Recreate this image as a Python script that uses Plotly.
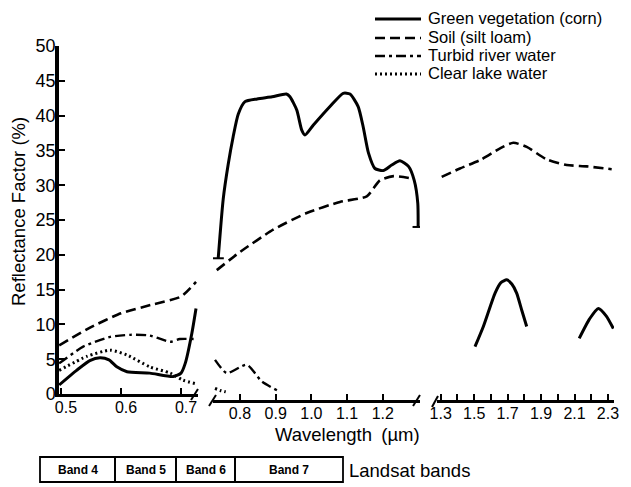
import plotly.graph_objects as go

# ---------------- data ----------------
# Green vegetation (corn)
veg_vis_x = [0.497, 0.526, 0.548, 0.565, 0.58, 0.593, 0.61, 0.648, 0.687, 0.70, 0.707, 0.718, 0.725]
veg_vis_y = [1.3, 3.4, 4.8, 5.2, 4.9, 3.9, 3.2, 3.0, 2.5, 3.0, 4.4, 8.7, 12.3]
veg_nir_x = [0.739, 0.753, 0.767, 0.781, 0.795, 0.814, 0.848, 0.89, 0.93, 0.94, 0.959, 0.973, 0.982,
             1.005, 1.052, 1.089, 1.108, 1.131, 1.145, 1.16, 1.178, 1.201, 1.225, 1.248, 1.272, 1.288,
             1.298, 1.299]
veg_nir_y = [19.5, 28.0, 33.0, 37.0, 40.2, 42.0, 42.4, 42.7, 43.1, 42.7, 40.8, 37.9, 37.2,
             38.6, 41.3, 43.2, 43.1, 41.3, 38.4, 34.6, 32.4, 32.1, 32.9, 33.5, 32.7, 30.7,
             27.4, 24.0]
veg_swir1_x = [1.505, 1.555, 1.625, 1.66, 1.695, 1.725, 1.754, 1.785, 1.814]
veg_swir1_y = [6.8, 9.7, 14.5, 16.0, 16.4, 15.8, 14.5, 12.0, 9.7]
veg_swir2_x = [2.128, 2.19, 2.242, 2.29, 2.332]
veg_swir2_y = [8.0, 10.8, 12.3, 11.2, 9.4]

# Soil (silt loam)
soil_vis_x = [0.497, 0.55, 0.6, 0.65, 0.70, 0.725]
soil_vis_y = [7.0, 9.6, 11.6, 12.8, 14.0, 16.1]
soil_nir_x = [0.735, 0.8, 0.893, 0.987, 1.08, 1.155, 1.192, 1.23, 1.277]
soil_nir_y = [17.8, 20.4, 23.6, 26.0, 27.6, 28.4, 30.7, 31.3, 31.0]
soil_swir_x = [1.306, 1.415, 1.535, 1.655, 1.734, 1.814, 1.934, 2.053, 2.173, 2.322]
soil_swir_y = [31.2, 32.4, 33.6, 35.3, 36.1, 35.5, 33.7, 32.9, 32.7, 32.3]

# Turbid river water
turbid_vis_x = [0.497, 0.537, 0.582, 0.615, 0.648, 0.682, 0.698, 0.722]
turbid_vis_y = [4.4, 6.8, 8.2, 8.5, 8.4, 7.5, 7.9, 7.9]
turbid_nir_x = [0.73, 0.763, 0.819, 0.861, 0.912]
turbid_nir_y = [4.9, 3.0, 4.2, 1.8, 0.3]

# Clear lake water
clear_vis_x = [0.497, 0.543, 0.582, 0.61, 0.648, 0.682, 0.703, 0.723]
clear_vis_y = [3.4, 5.4, 6.3, 5.6, 3.9, 3.0, 2.0, 1.5]
clear_nir_x = [0.73, 0.745, 0.76]
clear_nir_y = [0.8, 0.5, 0.3]

series_names = ["Green vegetation (corn)", "Soil (silt loam)", "Turbid river water", "Clear lake water"]
y_ticks = [0, 5, 10, 15, 20, 25, 30, 35, 40, 45, 50]
left_ticks = [0.5, 0.6, 0.7]
left_labels = ["0.5", "0.6", "0.7"]
mid_ticks = [0.8, 0.9, 1.0, 1.1, 1.2]
mid_labels = ["0.8", "0.9", "1.0", "1.1", "1.2"]
right_ticks = [1.3, 1.4, 1.5, 1.6, 1.7, 1.8, 1.9, 2.0, 2.1, 2.2, 2.3]
right_labels = ["1.3", "", "1.5", "", "1.7", "", "1.9", "", "2.1", "", "2.3"]
band_names = ["Band 4", "Band 5", "Band 6", "Band 7"]

# ---------------- figure ----------------
# the page body adds an 8px margin, so the figure is 8px smaller and everything shifts by 8px
W, H = 623, 479
L, R, T, B = 51, 17, 38, 86
PW, PH = W - L - R, H - T - B


def px(x):  # reference-image x pixel -> paper
    return (x - 8 - L) / PW


def py(y):  # reference-image y pixel -> paper
    return (H - B - (y - 8)) / PH


FONT = "Liberation Sans, Arial, sans-serif"

dashes = ["solid", "10px,5px", "10px,4px,3px,4px", "2px,3px"]
widths = [3, 2.6, 2.4, 3]

fig = go.Figure()


def add(xs, ys, k, xa):
    fig.add_trace(go.Scatter(
        x=xs, y=ys, mode="lines",
        line=dict(color="black", width=widths[k], dash=dashes[k], shape="spline", smoothing=0.6),
        name=series_names[k], showlegend=False, xaxis=xa, yaxis="y", hoverinfo="skip"))


add(veg_vis_x, veg_vis_y, 0, "x")
add(soil_vis_x, soil_vis_y, 1, "x")
add(turbid_vis_x, turbid_vis_y, 2, "x")
add(clear_vis_x, clear_vis_y, 3, "x")
add(veg_nir_x, veg_nir_y, 0, "x2")
add(soil_nir_x, soil_nir_y, 1, "x2")
add(turbid_nir_x, turbid_nir_y, 2, "x2")
add(clear_nir_x, clear_nir_y, 3, "x2")
add(veg_swir1_x, veg_swir1_y, 0, "x3")
add(veg_swir2_x, veg_swir2_y, 0, "x3")
add(soil_swir_x, soil_swir_y, 1, "x3")

# end caps on the vegetation NIR segment
fig.add_trace(go.Scatter(
    x=[veg_nir_x[0], veg_nir_x[-1]], y=[veg_nir_y[0], veg_nir_y[-1]], mode="markers",
    marker=dict(symbol="line-ew", size=8, line=dict(width=2, color="black")),
    xaxis="x2", yaxis="y", showlegend=False, hoverinfo="skip"))

tickfont = dict(family=FONT, size=16, color="black")
common_x = dict(showgrid=False, zeroline=False, showline=True, linecolor="black", linewidth=3,
                ticks="inside", ticklen=6, tickwidth=1.5, tickcolor="black", tickfont=tickfont,
                ticklabelstandoff=-3, fixedrange=True)

y0 = py(394)
fig.update_layout(
    width=W, height=H, margin=dict(l=L, r=R, t=T, b=B, autoexpand=False),
    paper_bgcolor="white", plot_bgcolor="white", showlegend=False,
    xaxis=dict(domain=[0, px(198)], range=[0.4967, 0.7283], tickvals=left_ticks,
               ticktext=left_labels, anchor="y", ticklabelshift=5, **common_x),
    xaxis2=dict(domain=[px(213), px(420)], range=[0.7244, 1.3042], tickvals=mid_ticks,
                ticktext=mid_labels, anchor="free", position=0, **common_x),
    xaxis3=dict(domain=[px(437), 1.0], range=[1.2779, 2.3359], tickvals=right_ticks,
                ticktext=right_labels, anchor="free", position=0, **common_x),
    yaxis=dict(domain=[y0, 1], range=[0, 50], tickvals=y_ticks, anchor="x",
               showgrid=False, zeroline=False, showline=True, linecolor="black", linewidth=3.5,
               ticks="inside", ticklen=6, tickwidth=1.5, tickcolor="black", ticklabelstandoff=-4,
               tickfont=dict(family=FONT, size=18, color="black"), fixedrange=True),
)

shapes = []
# axis-break slashes
for (xa, ya, xb, yb) in [(191, 400, 198, 389), (209, 406, 216, 395), (413, 406, 420, 395),
                         (432, 407, 438, 396)]:
    shapes.append(dict(type="line", xref="paper", yref="paper", x0=px(xa), y0=py(ya),
                       x1=px(xb), y1=py(yb), line=dict(color="black", width=2)))

# legend samples
legend_rows = [18, 37, 55, 73]
for k, yy in enumerate(legend_rows):
    shapes.append(dict(type="line", xref="paper", yref="paper", x0=px(375), x1=px(421),
                       y0=py(yy + 1), y1=py(yy + 1),
                       line=dict(color="black", width=widths[k], dash=dashes[k])))

# Landsat band boxes
band_edges = [40, 115, 176, 235, 343]
for i in range(4):
    shapes.append(dict(type="rect", xref="paper", yref="paper", x0=px(band_edges[i]),
                       x1=px(band_edges[i + 1]), y0=py(482), y1=py(457),
                       line=dict(color="black", width=1.8)))
fig.update_layout(shapes=shapes)

ann = []
for k, yy in enumerate(legend_rows):
    ann.append(dict(text=series_names[k], x=px(426), y=py(yy), xref="paper", yref="paper",
                    xanchor="left", yanchor="middle", showarrow=False,
                    font=dict(family=FONT, size=16.5, color="black")))
for i, nm in enumerate(band_names):
    ann.append(dict(text="<b>" + nm + "</b>", x=px((band_edges[i] + band_edges[i + 1]) / 2), y=py(470),
                    xref="paper", yref="paper", xanchor="center", yanchor="middle", showarrow=False,
                    font=dict(family=FONT, size=12, color="black")))
ann.append(dict(text="Landsat bands", x=px(347), y=py(470), xref="paper", yref="paper", xanchor="left",
                yanchor="middle", showarrow=False, font=dict(family=FONT, size=18.5, color="black")))
ann.append(dict(text="Wavelength\u2002(µm)", x=px(347), y=py(434), xref="paper", yref="paper",
                xanchor="center", yanchor="middle", showarrow=False,
                font=dict(family=FONT, size=18.5, color="black")))
ann.append(dict(text="Reflectance Factor (%)", x=px(18), y=py(212), xref="paper", yref="paper",
                xanchor="center", yanchor="middle", textangle=-90, showarrow=False,
                font=dict(family=FONT, size=18.5, color="black")))
fig.update_layout(annotations=ann)

fig.write_html("out.html")
